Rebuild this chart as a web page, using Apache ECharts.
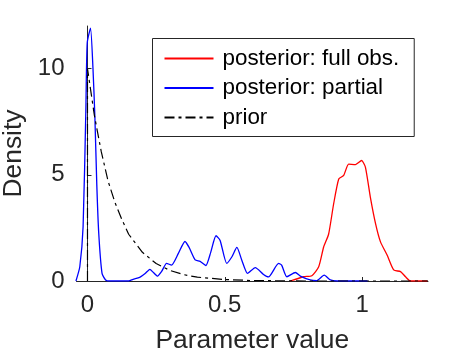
<!DOCTYPE html>
<html>
<head>
<meta charset="utf-8">
<script src="https://cdn.jsdelivr.net/npm/echarts@6/dist/echarts.min.js"></script>
<style>
  html, body { margin: 0; padding: 0; background: #fff; }
  #box { width: 472px; height: 356px; }
</style>
</head>
<body>
<div id="box"></div>
<script>
  // posterior with full observations
  const fullX = [0.738, 0.787, 0.817, 0.842, 0.86, 0.878, 0.896, 0.915, 0.933, 0.951, 0.976, 0.998, 1.012, 1.03, 1.049, 1.067, 1.091, 1.115, 1.14, 1.158, 1.176, 1.238];
  const fullY = [0, 0.2, 0.25, 0.67, 1.6, 2.2, 3.6, 4.8, 4.97, 5.5, 5.48, 5.67, 5.36, 3.95, 2.7, 1.84, 1.22, 0.52, 0.44, 0.2, 0, 0];

  // posterior with partial observations
  const partialX = [-0.042, -0.028, -0.016, -0.006, -0.001, 0.011, 0.02, 0.027, 0.034, 0.041, 0.053, 0.066, 0.08, 0.15, 0.166, 0.19, 0.21, 0.227, 0.24, 0.255, 0.27, 0.288, 0.306, 0.331, 0.355, 0.37, 0.392, 0.41, 0.431, 0.449, 0.468, 0.483, 0.507, 0.526, 0.544, 0.562, 0.583, 0.611, 0.641, 0.659, 0.696, 0.707, 0.726, 0.757, 0.775, 0.811, 0.835, 0.862, 0.884, 0.909, 1.02];
  const partialY = [0, 0.67, 2.55, 8, 11.2, 11.9, 10, 7.7, 4.5, 2.25, 0.36, 0.05, 0, 0, 0.08, 0.17, 0.35, 0.55, 0.4, 0.23, 0.45, 0.83, 0.75, 1.3, 1.86, 1.58, 0.99, 0.92, 0.73, 1.36, 2.13, 1.91, 0.83, 1.14, 1.58, 0.98, 0.36, 0.63, 0.31, 0.19, 0.83, 0.75, 0.2, 0.4, 0.23, 0.05, 0.02, 0.28, 0.05, 0, 0];

  // prior
  const priorX = [0, 0, 0.025, 0.05, 0.075, 0.1, 0.125, 0.15, 0.2, 0.25, 0.3, 0.35, 0.4, 0.5, 0.6, 0.8, 1.24];
  const priorY = [0, 10, 7.8, 6.1, 4.7, 3.7, 2.9, 2.2, 1.35, 0.82, 0.5, 0.3, 0.18, 0.07, 0.02, 0, 0];

  const xTicks = [0, 0.5, 1];
  const yTicks = [0, 5, 10];

  const zip = (xs, ys) => xs.map((x, i) => [x, ys[i]]);
  const ink = '#262626';
  const font = 'Liberation Sans, Arial, Helvetica, sans-serif';

  const chart = echarts.init(document.getElementById('box'));
  chart.setOption({
    animation: false,
    backgroundColor: '#fff',
    grid: { left: 76.5, top: 26, right: 44, bottom: 75, containLabel: false, outerBoundsMode: 'none' },
    legend: {
      orient: 'vertical',
      left: 152.5,
      top: 38.5,
      padding: [9, 15, 8, 11],
      itemGap: 7.5,
      itemWidth: 49,
      itemHeight: 14,
      itemStyle: { opacity: 0 },
      borderColor: ink,
      borderWidth: 1,
      backgroundColor: '#fff',
      textStyle: { fontFamily: font, fontSize: 22.4, color: '#000', lineHeight: 22, padding: [0, 0, 0, 4] },
      data: ['posterior: full obs.', 'posterior: partial', 'prior'],
    },
    xAxis: {
      type: 'value',
      min: -0.04,
      max: 1.24,
      name: 'Parameter value',
      nameLocation: 'middle',
      nameGap: 47,
      nameTextStyle: { fontFamily: font, fontSize: 26.4, color: ink },
      splitLine: { show: false },
      axisLine: { lineStyle: { color: ink, width: 1 } },
      axisTick: { inside: true, length: 4, customValues: xTicks, lineStyle: { color: ink } },
      axisLabel: { customValues: xTicks, margin: 12, fontFamily: font, fontSize: 24, color: ink },
    },
    yAxis: {
      type: 'value',
      min: 0,
      max: 12,
      name: 'Density',
      nameLocation: 'middle',
      nameGap: 49,
      nameTextStyle: { fontFamily: font, fontSize: 26.4, color: ink },
      splitLine: { show: false },
      axisLine: { show: true, lineStyle: { color: ink, width: 1 } },
      axisTick: { show: true, inside: true, length: 4, customValues: yTicks, lineStyle: { color: ink } },
      axisLabel: { customValues: yTicks, margin: 12, fontFamily: font, fontSize: 24, color: ink },
    },
    series: [
      {
        name: 'posterior: full obs.',
        type: 'line',
        data: zip(fullX, fullY),
        showSymbol: false,
        symbol: 'none',
        smooth: 0.2,
        color: '#ff0000',
        lineStyle: { width: 1.3, color: '#ff0000' },
        z: 3,
      },
      {
        name: 'posterior: partial',
        type: 'line',
        data: zip(partialX, partialY),
        showSymbol: false,
        symbol: 'none',
        smooth: 0.2,
        color: '#0000ff',
        lineStyle: { width: 1.3, color: '#0000ff' },
        z: 4,
      },
      {
        name: 'prior',
        type: 'line',
        data: zip(priorX, priorY),
        showSymbol: false,
        symbol: 'none',
        color: '#000',
        lineStyle: { width: 1.2, color: '#000', type: [10, 4, 3, 4] },
        z: 5,
      },
    ],
  });
</script>
</body>
</html>
